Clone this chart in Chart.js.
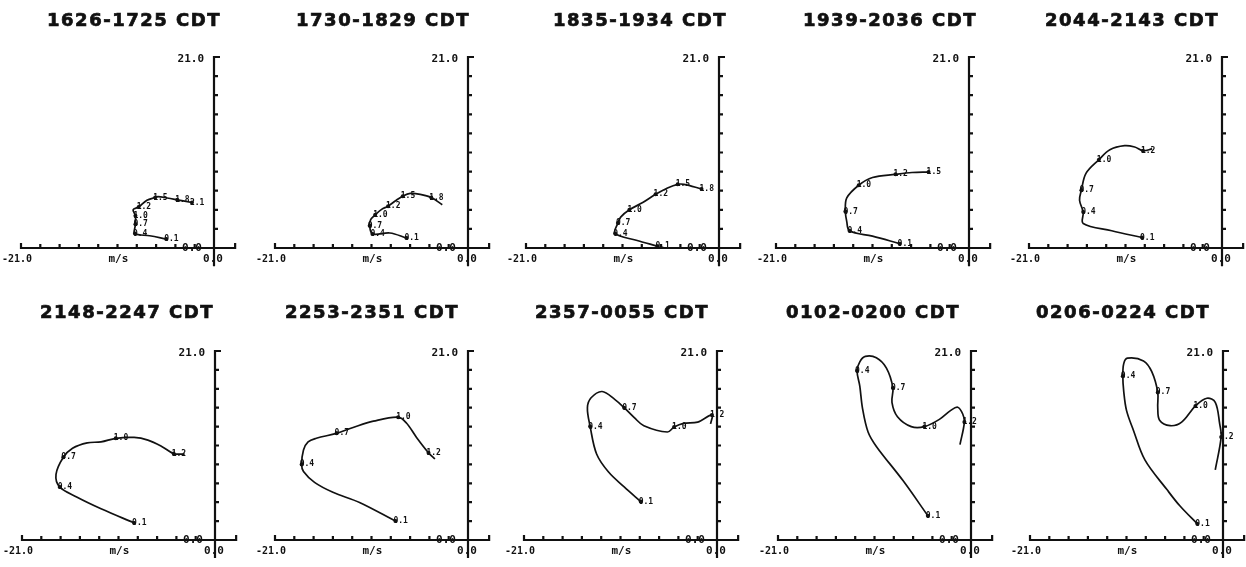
<!DOCTYPE html>
<html>
<head>
<meta charset="utf-8">
<script src="https://cdn.jsdelivr.net/npm/chart.js@4.4.1/dist/chart.umd.min.js"></script>
<style>
  body { margin: 0; background: #fff; }
  #page { position: relative; width: 1246px; height: 567px; overflow: hidden; }
  .panel { position: absolute; }
</style>
</head>
<body>
<div id="page"></div>
<script>
// hodograph panels, u / v wind components in m/s, labels are heights in km
var titles = ["1626-1725 CDT", "1730-1829 CDT", "1835-1934 CDT", "1939-2036 CDT", "2044-2143 CDT",
              "2148-2247 CDT", "2253-2351 CDT", "2357-0055 CDT", "0102-0200 CDT", "0206-0224 CDT"]

var u1 = [-5.2, -7.0, -8.6, -8.55, -8.55, -8.8, -8.2, -7.3, -6.4, -6.1, -5.1, -4.0, -2.4]
var v1 = [1.0, 1.35, 1.6, 2.6, 3.55, 4.2, 4.5, 5.25, 5.55, 5.65, 5.5, 5.3, 5.0]
var h1 = ["0.1", "", "0.4", "0.7", "1.0", "", "1.2", "", "1.5", "", "", "1.8", "2.1"]

var u2 = [-6.7, -8.5, -10.4, -10.7, -10.6, -10.1, -9.4, -8.7, -7.8, -7.1, -6.3, -5.2, -4.0, -2.8]
var v2 = [1.1, 1.65, 1.55, 2.45, 3.1, 3.65, 4.25, 4.6, 5.25, 5.7, 6.0, 5.9, 5.55, 4.75]
var h2 = ["0.1", "", "0.4", "0.7", "", "1.0", "", "1.2", "", "1.5", "", "", "1.8", ""]

var u3 = [-6.7, -9.0, -11.3, -11.0, -10.7, -9.75, -8.3, -6.9, -5.6, -4.5, -3.8, -1.9]
var v3 = [0.2, 0.85, 1.6, 2.75, 3.4, 4.2, 5.0, 5.9, 6.6, 7.0, 7.0, 6.5]
var h3 = ["0.1", "", "0.4", "0.7", "", "1.0", "", "1.2", "", "1.5", "", "1.8"]

var u4 = [-7.55, -10.5, -13.0, -13.3, -13.45, -13.3, -12.0, -10.5, -8.0, -6.2, -4.4]
var v4 = [0.48, 1.3, 1.9, 2.9, 4.0, 5.5, 6.9, 7.75, 8.1, 8.3, 8.35]
var h4 = ["0.1", "", "0.4", "", "0.7", "", "1.0", "", "1.2", "", "1.5"]

var u5 = [-8.7, -12.0, -15.1, -15.1, -15.5, -15.3, -14.8, -13.4, -12.2, -10.6, -9.5, -8.6, -7.6]
var v5 = [1.15, 1.9, 2.7, 3.95, 5.25, 6.35, 8.2, 9.7, 10.8, 11.25, 11.1, 10.7, 10.9]
var h5 = ["0.1", "", "", "0.4", "", "0.7", "", "1.0", "", "", "", "1.2", ""]

var u6 = [-8.8, -12.4, -15.0, -16.9, -17.3, -16.5, -15.5, -13.9, -12.4, -10.8, -8.8, -7.3, -5.8, -4.5, -3.3]
var v6 = [1.9, 3.47, 4.75, 5.9, 7.3, 9.2, 10.2, 10.8, 10.9, 11.3, 11.4, 11.1, 10.4, 9.6, 9.55]
var h6 = ["0.1", "", "", "0.4", "", "0.7", "", "", "", "1.0", "", "", "", "1.2", ""]

var u7 = [-7.9, -11.8, -14.7, -16.7, -17.9, -18.1, -17.9, -17.4, -16.5, -14.3, -12.5, -10.3, -7.6, -6.7, -5.6, -4.3, -3.6]
var v7 = [2.1, 4.17, 5.3, 6.4, 7.6, 8.4, 10.0, 10.9, 11.3, 11.85, 12.5, 13.2, 13.65, 13.0, 11.4, 9.7, 9.0]
var h7 = ["0.1", "", "", "", "", "0.4", "", "", "", "0.7", "", "", "1.0", "", "", "1.2", ""]

var u8 = [-8.3, -10.1, -11.8, -13.1, -13.8, -14.1, -13.7, -12.5, -11.1, -10.1, -9.0, -7.96, -5.4, -4.67, -3.65, -2.1, -0.55, -0.7]
var v8 = [4.27, 5.9, 7.55, 9.56, 12.6, 14.7, 15.8, 16.5, 15.6, 14.7, 13.6, 12.7, 12.0, 12.55, 12.96, 13.1, 13.9, 12.9]
var h8 = ["0.1", "", "", "", "0.4", "", "", "", "", "0.7", "", "", "", "1.0", "", "", "1.2", ""]

var u9 = [-4.7, -7.4, -10.3, -11.2, -11.8, -12.1, -12.4, -12.1, -11.5, -10.3, -9.2, -8.5, -8.6, -8.0, -6.5, -5.07, -3.44, -2.2, -1.45, -0.9, -0.72, -1.2]
var v9 = [2.7, 6.6, 10.4, 12.0, 14.6, 17.1, 18.8, 19.8, 20.4, 20.25, 19.1, 16.9, 15.3, 13.7, 12.6, 12.6, 13.4, 14.4, 14.75, 14.0, 13.1, 10.6]
var h9 = ["0.1", "", "", "", "", "", "0.4", "", "", "", "", "0.7", "", "", "", "1.0", "", "", "", "", "1.2", ""]

var u10 = [-2.8, -4.7, -6.1, -8.5, -9.75, -10.5, -10.8, -10.9, -10.8, -10.4, -8.65, -7.75, -7.1, -7.1, -6.9, -5.75, -4.5, -3.0, -1.75, -0.84, -0.36, -0.2, -0.84]
var v10 = [1.8, 3.8, 5.6, 8.9, 12.2, 14.4, 16.5, 18.2, 19.6, 20.2, 19.9, 18.7, 16.4, 14.7, 13.3, 12.7, 13.1, 14.9, 15.75, 15.3, 12.9, 11.45, 7.8]
var h10 = ["0.1", "", "", "", "", "", "", "0.4", "", "", "", "", "0.7", "", "", "", "", "1.0", "", "", "", "1.2", ""]

var uWind = [u1, u2, u3, u4, u5, u6, u7, u8, u9, u10]
var vWind = [v1, v2, v3, v4, v5, v6, v7, v8, v9, v10]
var heights = [h1, h2, h3, h4, h5, h6, h7, h8, h9, h10]

// axis text
var topTick = "21.0"
var leftTick = "-21.0"
var zeroTick = "0.0"
var unitText = "m/s"
var surfaceLabel = "0.0"

// where each panel's -21 m/s point sits on the page, and title offset from it
var axisLeft = [21, 275, 526, 776, 1029, 22, 275, 524, 778, 1030]
var titleDx = [113, 108, 114, 114, 103, 105, 97, 98, 95, 93]

var hodoArt = {
    id: "hodoArt",
    afterDatasetsDraw: function (chart, args, opts) {
        var ctx = chart.ctx
        var xs = chart.scales.x
        var ys = chart.scales.y
        var px = function (u) { return xs.getPixelForValue(u) }
        var py = function (v) { return ys.getPixelForValue(v) }
        var x0 = px(0), y0 = py(0), xl = px(-21), yt = py(21)

        ctx.save()
        ctx.strokeStyle = "#111"
        ctx.fillStyle = "#111"
        ctx.lineWidth = 2.2
        ctx.beginPath()
        // x axis, ticks point up
        ctx.moveTo(xl, y0 - 5)
        ctx.lineTo(xl, y0)
        ctx.lineTo(px(2.3), y0)
        ctx.lineTo(px(2.3), y0 - 5)
        for (var k = 1; k < 10; k++) {
            ctx.moveTo(px(-21 + 2.1 * k), y0)
            ctx.lineTo(px(-21 + 2.1 * k), y0 - 4)
        }
        // y axis, ticks point right
        ctx.moveTo(x0, py(-2.0))
        ctx.lineTo(x0, yt)
        ctx.lineTo(x0 + 6, yt)
        for (var j = 1; j < 10; j++) {
            ctx.moveTo(x0, py(2.1 * j))
            ctx.lineTo(x0 + 4, py(2.1 * j))
        }
        ctx.stroke()

        // axis text
        ctx.font = "bold 11px 'DejaVu Sans Mono'"
        ctx.textBaseline = "middle"
        ctx.textAlign = "right"
        ctx.fillText(topTick, x0 - 10, yt + 2)
        ctx.textAlign = "center"
        ctx.fillText(unitText, px(-10.4), y0 + 11)
        ctx.fillText(zeroTick, x0 - 1, y0 + 11)
        ctx.fillText(surfaceLabel, px(-2.4), y0)
        ctx.font = "bold 10px 'DejaVu Sans Mono'"
        ctx.fillText(leftTick, xl - 4, y0 + 11)

        // height labels next to the marked points
        var ds = chart.data.datasets[0]
        ctx.font = "bold 8px 'DejaVu Sans Mono'"
        ctx.textAlign = "left"
        for (var i = 0; i < ds.data.length; i++) {
            if (opts.labels[i]) {
                ctx.fillText(opts.labels[i], px(ds.data[i].x) - 2, py(ds.data[i].y))
            }
        }

        // panel title, heavy like the plotter lettering
        ctx.font = "bold 18px 'DejaVu Sans', sans-serif"
        ctx.letterSpacing = "1.5px"
        ctx.textAlign = "center"
        ctx.textBaseline = "alphabetic"
        ctx.lineWidth = 0.7
        ctx.fillText(opts.title, xl + opts.titleDx, opts.titleY)
        ctx.strokeText(opts.title, xl + opts.titleDx, opts.titleY)
        ctx.restore()
    }
}

function makePanel(i) {
    var row = i < 5 ? 0 : 1
    var top = row == 0 ? 0 : 284
    var height = row == 0 ? 284 : 283
    var left = axisLeft[i] - 21

    var div = document.createElement("div")
    div.className = "panel"
    div.style.left = left + "px"
    div.style.top = top + "px"
    div.style.width = "249px"
    div.style.height = height + "px"
    var canvas = document.createElement("canvas")
    div.appendChild(canvas)
    document.getElementById("page").appendChild(div)

    var points = []
    for (var p = 0; p < uWind[i].length; p++) {
        points.push({ x: uWind[i][p], y: vWind[i][p] })
    }
    var labels = heights[i]

    new Chart(canvas.getContext("2d"), {
        type: "scatter",
        data: {
            datasets: [{
                data: points,
                showLine: true,
                tension: 0.35,
                borderColor: "#111",
                borderWidth: 1.7,
                backgroundColor: "#111",
                pointRadius: function (c) { return labels[c.dataIndex] ? 2 : 0 },
                pointBorderWidth: 0,
                clip: false
            }]
        },
        options: {
            responsive: true,
            maintainAspectRatio: false,
            animation: false,
            devicePixelRatio: 1,
            layout: {
                padding: row == 0
                    ? { left: 21, right: 35, top: 57, bottom: 36 }
                    : { left: 21, right: 35, top: 67, bottom: 27 }
            },
            scales: {
                x: { type: "linear", min: -21, max: 0, display: false },
                y: { type: "linear", min: 0, max: 21, display: false }
            },
            plugins: {
                legend: { display: false },
                tooltip: { enabled: false },
                hodoArt: {
                    labels: labels,
                    title: titles[i],
                    titleDx: titleDx[i],
                    titleY: row == 0 ? 26 : 34
                }
            }
        },
        plugins: [hodoArt]
    })
}

for (var n = 0; n < titles.length; n++) {
    makePanel(n)
}
</script>
</body>
</html>
